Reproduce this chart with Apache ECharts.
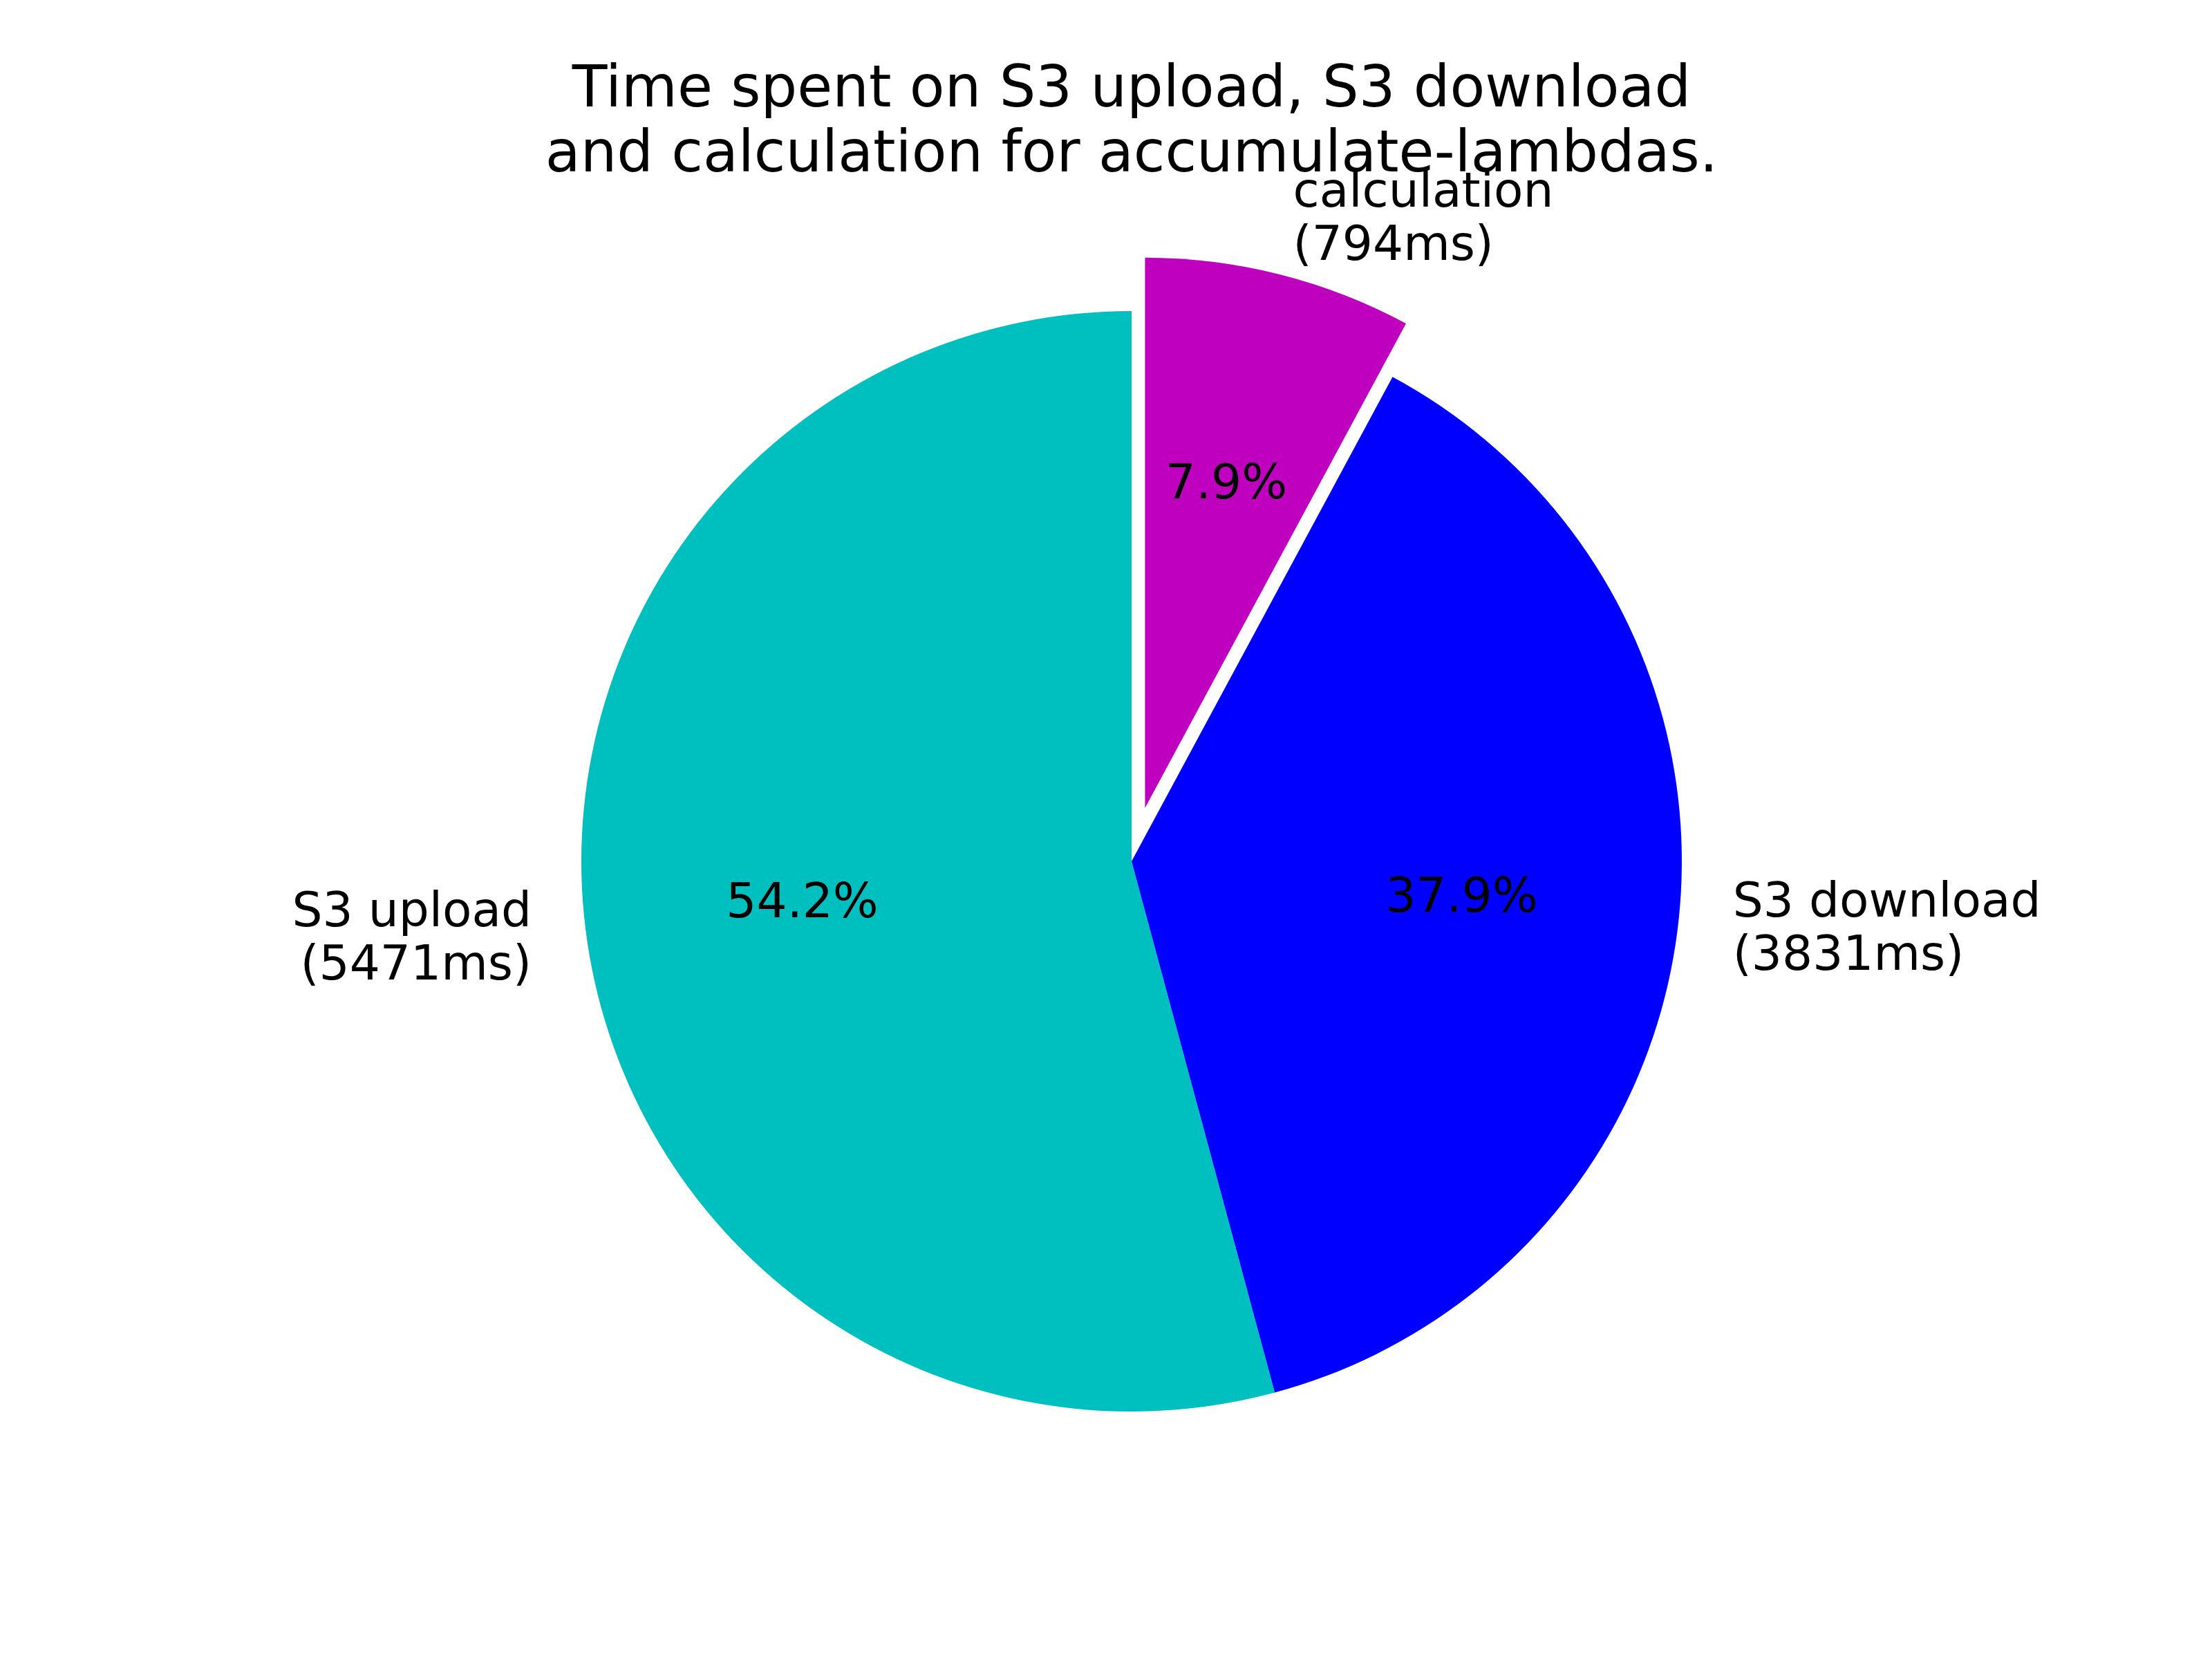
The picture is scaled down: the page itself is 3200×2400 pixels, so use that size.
<!DOCTYPE html>
<html>
<head>
<meta charset="utf-8">
<script src="https://cdn.jsdelivr.net/npm/echarts@6/dist/echarts.min.js"></script>
<style>
  html, body { margin: 0; padding: 0; background: #ffffff; }
  #chart { width: 3200px; height: 2400px; }
</style>
</head>
<body>
<div id="chart"></div>
<script>
const categories = ['S3 upload', 'S3 download', 'calculation'];
const timesMs = [5471, 3831, 794];
const colors = ['#00bfbf', '#0000ff', '#bf00bf'];
const exploded = [false, false, true];
const titleText = 'Time spent on S3 upload, S3 download\nand calculation for accumulate-lambdas.';

const total = timesMs.reduce((a, b) => a + b, 0);
const R = 796;
const CX = 1637, CY = 1246;
const FONT = 'DejaVu Sans';

const pieData = categories.map((name, i) => ({
  name: name,
  value: timesMs[i],
  selected: exploded[i],
  itemStyle: { color: colors[i] }
}));

const pctData = categories.map((name, i) => ({
  name: name,
  value: timesMs[i],
  selected: exploded[i],
  itemStyle: { color: 'rgba(0,0,0,0)' }
}));

const chart = echarts.init(document.getElementById('chart'), null, { renderer: 'canvas' });
chart.setOption({
  backgroundColor: '#ffffff',
  animation: false,
  title: {
    text: titleText,
    left: CX,
    textAlign: 'center',
    top: 85,
    padding: 0,
    textStyle: {
      fontFamily: FONT,
      fontSize: 83,
      fontWeight: 'normal',
      color: '#000000',
      lineHeight: 94
    }
  },
  series: [
    {
      type: 'pie',
      center: [CX, CY],
      radius: [0, R],
      startAngle: 90,
      clockwise: false,
      selectedMode: 'multiple',
      selectedOffset: 0.1 * R,
      avoidLabelOverlap: false,
      silent: true,
      emphasis: { disabled: true },
      itemStyle: { borderWidth: 0 },
      label: {
        show: true,
        position: 'outside',
        alignTo: 'none',
        distanceToLabelLine: 0,
        fontFamily: FONT,
        fontSize: 69.4,
        lineHeight: 77,
        color: '#000000',
        formatter: p => p.name + '\n(' + p.value + 'ms)'
      },
      labelLine: { show: false, length: 0.1 * R, length2: 0 },
      data: pieData
    },
    {
      type: 'pie',
      center: [CX, CY],
      radius: [0.2 * R, R],
      startAngle: 90,
      clockwise: false,
      selectedMode: 'multiple',
      selectedOffset: 0.1 * R,
      avoidLabelOverlap: false,
      silent: true,
      emphasis: { disabled: true },
      itemStyle: { borderWidth: 0 },
      label: {
        show: true,
        position: 'inside',
        fontFamily: FONT,
        fontSize: 69.4,
        color: '#000000',
        formatter: p => (p.value / total * 100).toFixed(1) + '%'
      },
      labelLine: { show: false },
      data: pctData
    }
  ]
});
</script>
</body>
</html>
